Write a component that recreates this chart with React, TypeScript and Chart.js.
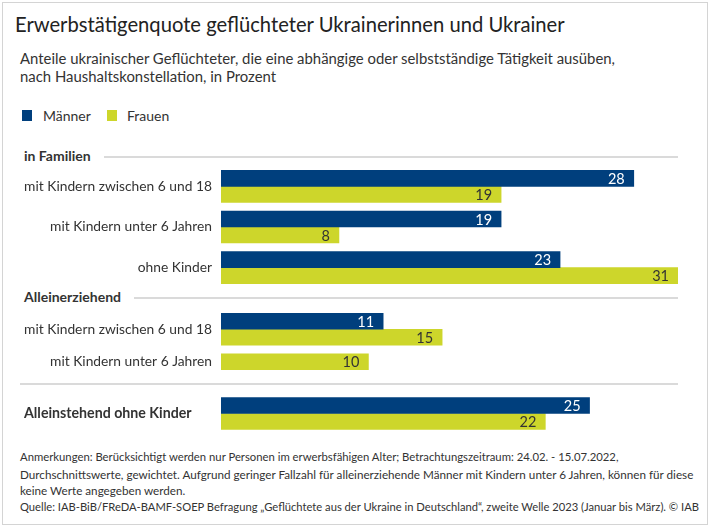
import React, { useEffect, useRef } from "react";
import { Chart, registerables } from "chart.js";

Chart.register(...registerables);

const FONT = "Lato, 'Noto Sans', sans-serif";
const NAVY = "#003f7d";
const LIME = "#cdd62b";
const TEXT = "#333333";

const seriesNames = ["Männer", "Frauen"];

const familyLabels = ["mit Kindern zwischen 6 und 18", "mit Kindern unter 6 Jahren", "ohne Kinder"];
const familyMen = [28, 19, 23];
const familyWomen = [19, 8, 31];

const singleParentLabels = ["mit Kindern zwischen 6 und 18", "mit Kindern unter 6 Jahren"];
const singleParentMen: (number | null)[] = [11, null];
const singleParentWomen = [15, 10];

const singleLabels = ["Alleinstehend ohne Kinder"];
const singleMen = [25];
const singleWomen = [22];

const axisMax = 31;

type SectionProps = {
  labels: string[];
  men: (number | null)[];
  women: (number | null)[];
  top: number;
  height: number;
  alignLeft?: boolean;
};

function BarSection({ labels, men, women, top, height, alignLeft }: SectionProps) {
  const ref = useRef<HTMLCanvasElement>(null);
  useEffect(() => {
    if (!ref.current) return;
    const valuePlugin = {
      id: "valueLabels",
      afterDatasetsDraw(chart: any) {
        const ctx = chart.ctx;
        ctx.save();
        ctx.font = `14.5px ${FONT}`;
        ctx.textAlign = "right";
        ctx.textBaseline = "middle";
        chart.data.datasets.forEach((ds: any, di: number) => {
          const meta = chart.getDatasetMeta(di);
          meta.data.forEach((bar: any, i: number) => {
            const v = ds.data[i];
            if (v == null) return;
            ctx.fillStyle = di === 0 ? "#ffffff" : TEXT;
            ctx.fillText(String(v), bar.x - 9, bar.y + 1);
          });
        });
        ctx.restore();
      },
    };
    const chart = new Chart(ref.current, {
      type: "bar",
      data: {
        labels,
        datasets: [
          { label: seriesNames[0], data: men as any, backgroundColor: NAVY, barThickness: 16, skipNull: true } as any,
          { label: seriesNames[1], data: women as any, backgroundColor: LIME, barThickness: 16, skipNull: true } as any,
        ],
      },
      options: {
        indexAxis: "y",
        animation: false,
        responsive: false,
        maintainAspectRatio: false,
        layout: { padding: { left: alignLeft ? 24 : 0, right: 0, top: 0, bottom: 0 } },
        plugins: { legend: { display: false }, tooltip: { enabled: false } },
        scales: {
          x: { display: false, min: 0, max: axisMax },
          y: {
            grid: { display: false, drawTicks: false },
            border: { display: false },
            afterFit: (s: any) => {
              s.width = alignLeft ? 197 : 221;
              s.paddingTop = 0;
              s.paddingBottom = 0;
            },
            ticks: {
              padding: 9,
              color: TEXT,
              crossAlign: alignLeft ? "far" : "near",
              font: { family: FONT, size: alignLeft ? 14.2 : 13.8, weight: alignLeft ? "bold" : "normal" },
            },
          },
        },
      } as any,
      plugins: [valuePlugin],
    });
    return () => chart.destroy();
  }, []);
  return (
    <canvas
      ref={ref}
      width={678}
      height={height}
      style={{ position: "absolute", left: 0, top, width: 678, height }}
    />
  );
}

const abs = (extra: React.CSSProperties): React.CSSProperties => ({ position: "absolute", whiteSpace: "nowrap", ...extra });

export default function App() {
  return (
    <div
      style={{
        position: "fixed",
        left: 0,
        top: 0,
        width: 711,
        height: 528,
        background: "#ffffff",
        fontFamily: FONT,
        color: TEXT,
        overflow: "hidden",
      }}
    >
      <div style={abs({ left: 2, top: 2, width: 704, height: 521, border: "1.5px solid #d4d4d4" })} />
      <div style={abs({ left: 15, top: 11, fontSize: 20.2, lineHeight: "26px", color: "#222" })}>
        Erwerbstätigenquote geflüchteter Ukrainerinnen und Ukrainer
      </div>
      <div style={abs({ left: 20, top: 49, fontSize: 14.9, lineHeight: "18px" })}>
        Anteile ukrainischer Geflüchteter, die eine abhängige oder selbstständige Tätigkeit ausüben,
        <br />
        nach Haushaltskonstellation, in Prozent
      </div>
      <div style={abs({ left: 22, top: 110, width: 10, height: 11, background: NAVY })} />
      <div style={abs({ left: 43, top: 107, fontSize: 14, lineHeight: "18px" })}>{seriesNames[0]}</div>
      <div style={abs({ left: 107, top: 110, width: 10, height: 11, background: LIME })} />
      <div style={abs({ left: 127, top: 107, fontSize: 14, lineHeight: "18px" })}>{seriesNames[1]}</div>

      <div style={abs({ left: 24, top: 147, fontSize: 14, lineHeight: "18px", fontWeight: 700 })}>in Familien</div>
      <div style={abs({ left: 104, top: 156, width: 574, height: 1.5, background: "#dadada" })} />

      <div style={abs({ left: 24, top: 288, fontSize: 14, lineHeight: "18px", fontWeight: 700 })}>Alleinerziehend</div>
      <div style={abs({ left: 134, top: 297, width: 544, height: 1.5, background: "#dadada" })} />

      <div style={abs({ left: 20, top: 383, width: 658, height: 1.5, background: "#dadada" })} />

      <BarSection labels={familyLabels} men={familyMen} women={familyWomen} top={166} height={122} />
      <BarSection labels={singleParentLabels} men={singleParentMen} women={singleParentWomen} top={313} height={65} />
      <BarSection labels={singleLabels} men={singleMen} women={singleWomen} top={393} height={41} alignLeft />

      <div style={abs({ left: 20, top: 449, lineHeight: "16.7px" })}>
        <div style={{ fontSize: 11.3 }}>
          Anmerkungen: Berücksichtigt werden nur Personen im erwerbsfähigen Alter; Betrachtungszeitraum: 24.02. - 15.07.2022,
        </div>
        <div style={{ fontSize: 11.7 }}>
          Durchschnittswerte, gewichtet. Aufgrund geringer Fallzahl für alleinerziehende Männer mit Kindern unter 6 Jahren, können für diese
        </div>
        <div style={{ fontSize: 11.7 }}>keine Werte angegeben werden.</div>
        <div style={{ fontSize: 11.2 }}>
          Quelle: IAB-BiB/FReDA-BAMF-SOEP Befragung „Geflüchtete aus der Ukraine in Deutschland“, zweite Welle 2023 (Januar bis März). © IAB
        </div>
      </div>
    </div>
  );
}
